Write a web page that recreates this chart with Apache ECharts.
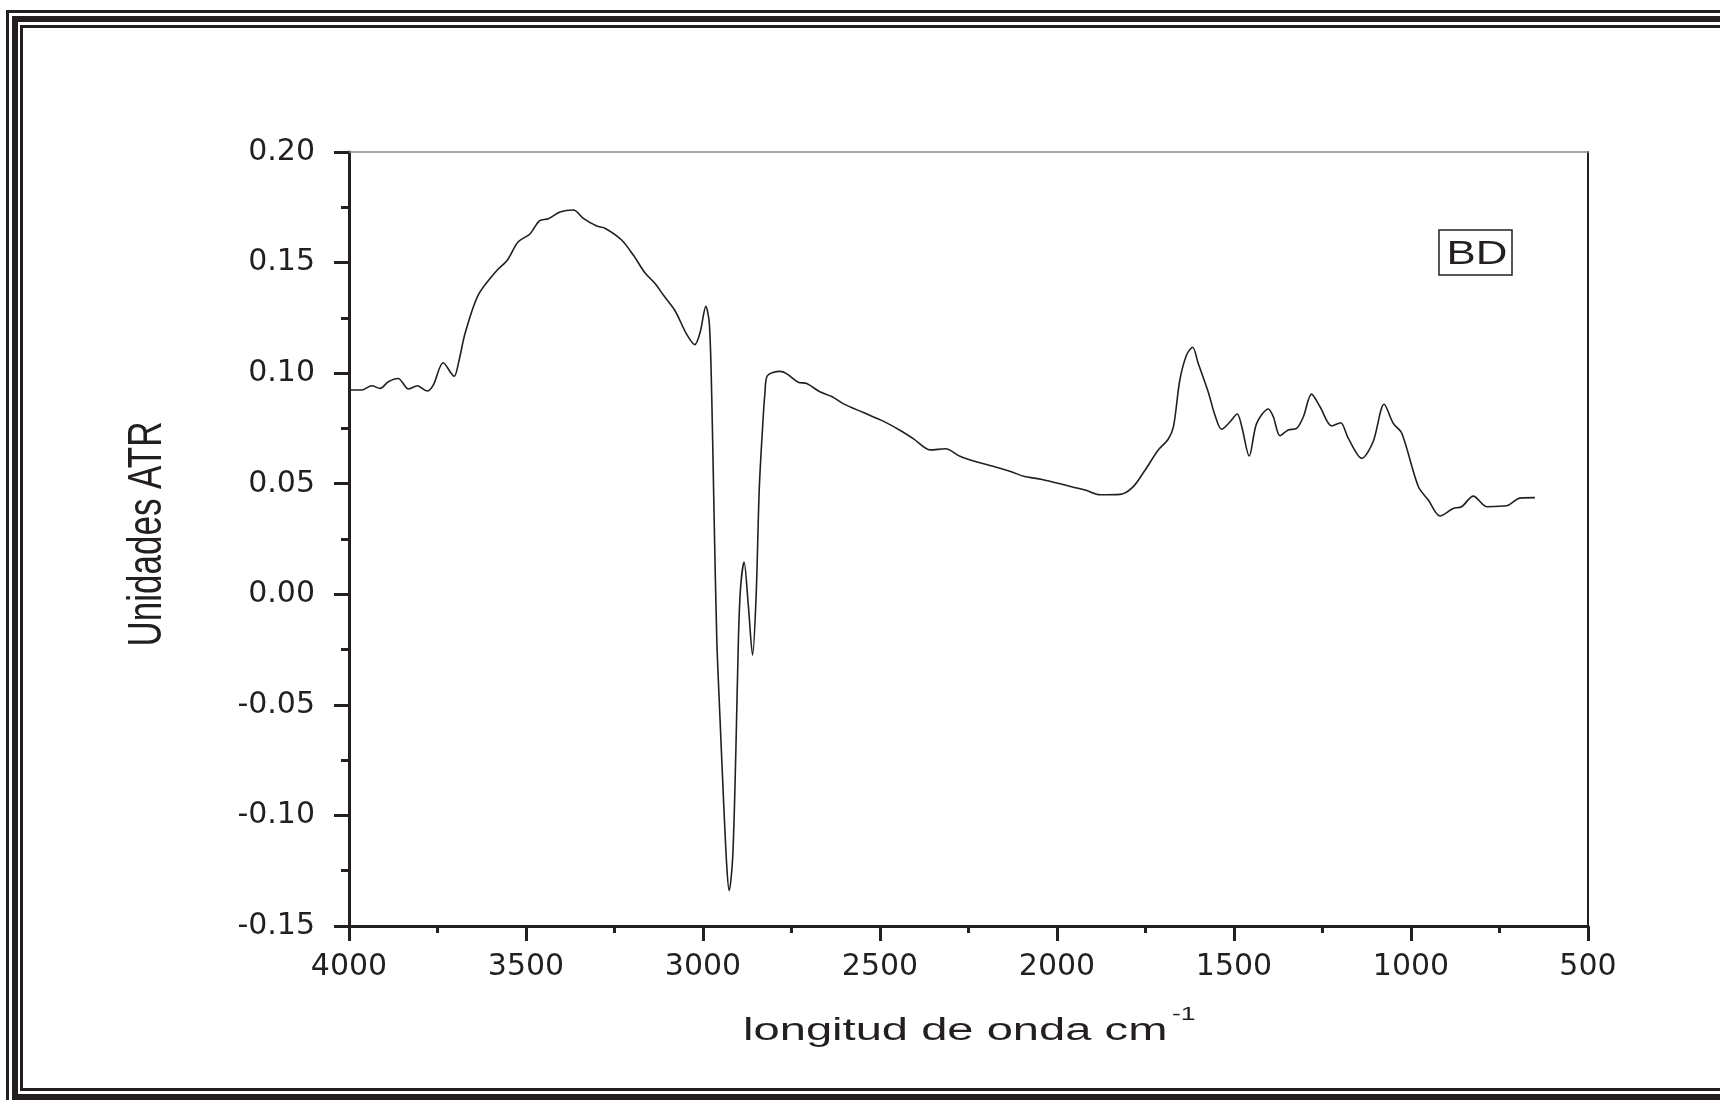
<!DOCTYPE html>
<html>
<head>
<meta charset="utf-8">
<script src="https://cdn.jsdelivr.net/npm/echarts@6/dist/echarts.min.js"></script>
<style>
html,body{margin:0;padding:0;background:#fff;}
#chart{width:1720px;height:1100px;}
</style>
</head>
<body>
<div id="chart"></div>
<script>
// Wavenumbers (cm-1)
const wavenumbers = [3995,3964,3936,3912,3889,3861,3832,3807,3779,3762,3734,3703,3691,3672,3635,3583,3554,3522,3489,3462,3437,3404,3366,3338,3300,3277,3230,3197,3164,3136,3112,3079,3046,3023,3008,2992,2982,2975,2969,2961,2952,2943,2933,2926,2916,2907,2900,2894,2884,2872,2860,2850,2841,2831,2825,2818,2783,2764,2731,2707,2670,2636,2603,2547,2491,2445,2405,2358,2315,2274,2228,2181,2129,2094,2042,1980,1918,1878,1822,1785,1751,1714,1686,1671,1653,1634,1617,1601,1573,1554,1535,1511,1491,1478,1457,1436,1403,1389,1370,1347,1323,1304,1281,1257,1224,1199,1177,1139,1107,1076,1050,1026,979,951,918,881,857,824,786,739,725,692,650];
// ATR units
const atrValues = [0.0924,0.0924,0.0943,0.0931,0.0961,0.0976,0.0928,0.0943,0.0919,0.0946,0.1047,0.0986,0.1044,0.118,0.1353,0.1463,0.1508,0.1594,0.1629,0.1689,0.1698,0.1729,0.1738,0.170,0.1665,0.1655,0.1602,0.1534,0.1454,0.1406,0.1353,0.1282,0.1175,0.1129,0.1185,0.1302,0.1223,0.0871,0.0381,-0.0207,-0.056,-0.0893,-0.1226,-0.134,-0.1187,-0.0697,-0.0207,0.0028,0.0146,-0.005,-0.0275,-0.0011,0.0479,0.0773,0.091,0.0989,0.1008,0.0998,0.0959,0.0953,0.0916,0.0894,0.0861,0.0822,0.0783,0.0743,0.0703,0.0653,0.0658,0.0624,0.0599,0.0579,0.0554,0.0534,0.0519,0.0495,0.047,0.045,0.0452,0.0486,0.0562,0.0652,0.0701,0.0758,0.0969,0.1082,0.1117,0.1044,0.0916,0.0811,0.0746,0.078,0.0815,0.0758,0.0625,0.0773,0.0838,0.0803,0.0717,0.0743,0.075,0.0803,0.0905,0.0848,0.0761,0.0776,0.0705,0.0615,0.069,0.0859,0.0773,0.0728,0.0486,0.0426,0.0354,0.0388,0.0396,0.0444,0.0396,0.0399,0.0403,0.0435,0.0437];
// Axis settings / labels
const xTitle = 'longitud de onda cm';
const xTitleSup = '-1';
const yTitle = 'Unidades ATR';
const sampleLabel = 'BD';
const xMin = 500, xMax = 4000, xStep = 500;
const yMin = -0.15, yMax = 0.20, yStep = 0.05;

const INK = '#231f20';
const seriesData = wavenumbers.map((w, i) => [w, atrValues[i]]);

const chart = echarts.init(document.getElementById('chart'), null, {renderer: 'canvas'});
const labelFont = 'DejaVu Sans';

chart.setOption({
  backgroundColor: '#ffffff',
  animation: false,
  grid: {left: 349, right: 132, top: 152, bottom: 174, containLabel: false},
  xAxis: [{
    type: 'value', inverse: true, min: xMin, max: xMax, interval: xStep,
    position: 'bottom',
    axisLine: {show: true, onZero: false, lineStyle: {color: INK, width: 3}},
    axisTick: {show: true, inside: false, length: 15, lineStyle: {color: INK, width: 3}},
    minorTick: {show: true, splitNumber: 2, length: 7, lineStyle: {color: INK, width: 3}},
    splitLine: {show: false},
    axisLabel: {color: INK, fontSize: 30, fontFamily: labelFont, margin: 26,
      formatter: v => String(Math.round(v))}
  }, {
    type: 'value', inverse: true, min: xMin, max: xMax, interval: xStep,
    position: 'top',
    axisLine: {show: true, onZero: false, lineStyle: {color: '#8a8a8a', width: 1.5}},
    axisTick: {show: false}, axisLabel: {show: false}, splitLine: {show: false}
  }],
  yAxis: [{
    type: 'value', min: yMin, max: yMax, interval: yStep,
    position: 'left',
    axisLine: {show: true, onZero: false, lineStyle: {color: INK, width: 3}},
    axisTick: {show: true, inside: false, length: 15, lineStyle: {color: INK, width: 3}},
    minorTick: {show: true, splitNumber: 2, length: 8, lineStyle: {color: INK, width: 3}},
    splitLine: {show: false},
    axisLabel: {color: INK, fontSize: 30, fontFamily: labelFont, margin: 34,
      formatter: v => (Math.abs(v) < 1e-9 ? 0 : v).toFixed(2)}
  }, {
    type: 'value', min: yMin, max: yMax, interval: yStep,
    position: 'right',
    axisLine: {show: true, onZero: false, lineStyle: {color: INK, width: 2}},
    axisTick: {show: false}, axisLabel: {show: false}, splitLine: {show: false}
  }],
  series: [{
    type: 'line',
    xAxisIndex: 0, yAxisIndex: 0,
    data: seriesData,
    showSymbol: false,
    smooth: 0.3,
    lineStyle: {color: INK, width: 1.6},
    z: 5
  }],
  graphic: [
    // decorative frame
    {type: 'rect', silent: true, shape: {x: 7.5, y: 11.5, width: 1740, height: 1120}, style: {fill: 'none', stroke: INK, lineWidth: 3}},
    {type: 'rect', silent: true, shape: {x: 15, y: 19, width: 1740, height: 1078}, style: {fill: 'none', stroke: INK, lineWidth: 6}},
    {type: 'rect', silent: true, shape: {x: 21.5, y: 26.5, width: 1740, height: 1063}, style: {fill: 'none', stroke: INK, lineWidth: 3}},
    // y axis title
    {type: 'text', silent: true, x: 147, y: 534, rotation: Math.PI / 2, scaleY: 1.4,
      style: {text: yTitle, font: '35px "Liberation Sans", Arial, sans-serif', fill: INK,
        align: 'center', verticalAlign: 'middle', textAlign: 'center', textVerticalAlign: 'middle'}},
    // x axis title
    {type: 'text', silent: true, x: 743, y: 1031, scaleX: 1.52,
      style: {text: xTitle, font: '31px "Liberation Sans", Arial, sans-serif', fill: INK,
        align: 'left', verticalAlign: 'middle', textAlign: 'left', textVerticalAlign: 'middle'}},
    {type: 'text', silent: true, x: 1172, y: 1015, scaleX: 1.4,
      style: {text: xTitleSup, font: '19px "Liberation Sans", Arial, sans-serif', fill: INK,
        align: 'left', verticalAlign: 'middle', textAlign: 'left', textVerticalAlign: 'middle'}},
    // sample label box
    {type: 'rect', silent: true, shape: {x: 1439, y: 230, width: 73, height: 45}, style: {fill: '#fff', stroke: INK, lineWidth: 1.5}},
    {type: 'text', silent: true, x: 1477, y: 255, scaleX: 1.33,
      style: {text: sampleLabel, font: '33px "Liberation Sans", Arial, sans-serif', fill: INK,
        align: 'center', verticalAlign: 'middle', textAlign: 'center', textVerticalAlign: 'middle'}}
  ]
});
</script>
</body>
</html>
